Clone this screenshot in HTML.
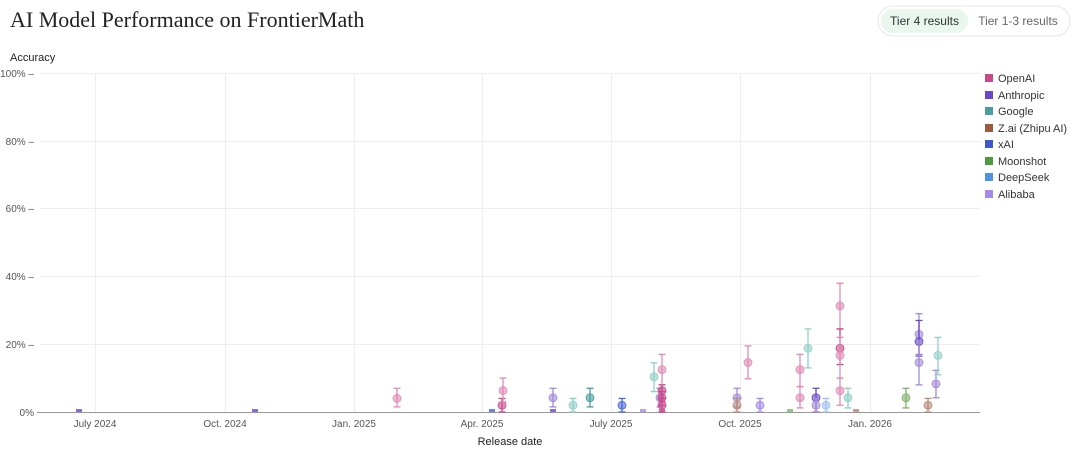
<!DOCTYPE html><html><head><style>
body{margin:0;background:#fff;font-family:"Liberation Sans",sans-serif;}
</style></head><body>
<svg width="1080" height="452" xmlns="http://www.w3.org/2000/svg" font-family="Liberation Sans, sans-serif">
<text x="10" y="27" font-family="Liberation Serif, serif" font-size="22" fill="#222">AI Model Performance on FrontierMath</text>
<rect x="878" y="6" width="192" height="30" rx="15" fill="#fff" stroke="#e6e6e6"/>
<rect x="881" y="9" width="87" height="24" rx="12" fill="#e9f7ef"/>
<text x="924.5" y="25" font-size="12" fill="#333" text-anchor="middle">Tier 4 results</text>
<text x="1018" y="25" font-size="12" fill="#666" text-anchor="middle">Tier 1-3 results</text>
<text x="10" y="61" font-size="11" fill="#222">Accuracy</text>
<g stroke="#eee" stroke-width="1">
<line x1="40" y1="73.5" x2="980" y2="73.5"/><line x1="40" y1="141.5" x2="980" y2="141.5"/><line x1="40" y1="208.5" x2="980" y2="208.5"/><line x1="40" y1="276.5" x2="980" y2="276.5"/><line x1="40" y1="344.5" x2="980" y2="344.5"/>
<line x1="95.5" y1="73" x2="95.5" y2="412"/><line x1="225.5" y1="73" x2="225.5" y2="412"/><line x1="354.5" y1="73" x2="354.5" y2="412"/><line x1="482.5" y1="73" x2="482.5" y2="412"/><line x1="611.5" y1="73" x2="611.5" y2="412"/><line x1="740.5" y1="73" x2="740.5" y2="412"/><line x1="870.5" y1="73" x2="870.5" y2="412"/>
</g>
<line x1="37" y1="412.5" x2="980" y2="412.5" stroke="#999"/>
<g font-size="10" fill="#555" text-anchor="end">
<text x="34" y="77">100% –</text><text x="34" y="145">80% –</text><text x="34" y="212">60% –</text><text x="34" y="280">40% –</text><text x="34" y="348">20% –</text><text x="34" y="416">0%</text>
</g>
<g font-size="10" fill="#555" text-anchor="middle">
<text x="95" y="427">July 2024</text><text x="225" y="427">Oct. 2024</text><text x="354" y="427">Jan. 2025</text><text x="482" y="427">Apr. 2025</text><text x="611" y="427">July 2025</text><text x="740" y="427">Oct. 2025</text><text x="870" y="427">Jan. 2026</text>
</g>
<text x="510" y="445" font-size="11" fill="#222" text-anchor="middle">Release date</text>
<g id="pts"></g>
<g font-size="11" fill="#333">
<rect x="985" y="74" width="8" height="8" fill="#c8498a"/><text x="998" y="82">OpenAI</text>
<rect x="985" y="91" width="8" height="8" fill="#6a48c6"/><text x="998" y="99">Anthropic</text>
<rect x="985" y="107" width="8" height="8" fill="#4a9ea0"/><text x="998" y="115">Google</text>
<rect x="985" y="124" width="8" height="8" fill="#9b5a3d"/><text x="998" y="132">Z.ai (Zhipu AI)</text>
<rect x="985" y="140" width="8" height="8" fill="#3f58cc"/><text x="998" y="148">xAI</text>
<rect x="985" y="157" width="8" height="8" fill="#4e9a3e"/><text x="998" y="165">Moonshot</text>
<rect x="985" y="173" width="8" height="8" fill="#4f92e0"/><text x="998" y="181">DeepSeek</text>
<rect x="985" y="190" width="8" height="8" fill="#a48ae8"/><text x="998" y="198">Alibaba</text>
</g>
</svg>
<script>
var C={o:"#c8498a",op:"#e08bb5",a:"#6a48c6",ap:"#a08ad9",g:"#8fcfc6",gd:"#4a9ea0",z:"#b88a78",x:"#4a66d6",m:"#7fb36a",d:"#9dc0f2",al:"#a48ae8"};
var P=[[79,0.4,"a",0,0],[255,0.3,"a",0,0],[397,4,"op",1.5,7],[492,0.3,"x",0,0],[502,2,"o",0,4],[503,6.3,"op",3,10],
[553,4.2,"ap",1.5,7],[553,0.5,"a",0,0],[573,2,"g",0,4],[590,4.2,"gd",1.5,7],[622,2,"x",0,4],[643,0.3,"al",0,0],
[654,10.4,"g",6,14.5],[662,12.5,"op",8,17],[660,4.2,"ap",1.5,7],[662,6.3,"o",3,8],[662,4.2,"o",2,6],[662,2,"o",0,4],[662,0.5,"o",0,0],
[737,4.2,"ap",1.5,7],[737,2,"z",0,4],[748,14.6,"op",9.8,19.5],[760,2,"al",0,4],[790,0.5,"m",0,0],
[800,12.5,"op",7.5,17],[800,4.2,"op",1.2,7.5],[808,18.8,"g",13,24.5],[816,4.2,"a",0,7],[816,2,"ap",0,4],[826,2,"d",0,4],
[840,31.3,"op",24.5,38],[840,18.8,"o",14,24.5],[840,16.7,"op",10,22],[840,6.3,"op",2,10],[848,4.2,"g",1.2,7],[856,0.3,"z",0,0],
[906,4.2,"m",1.2,7],[919,22.9,"ap",17,29],[919,20.8,"a",16.5,27],[919,14.6,"ap",8,21],[928,2,"z",0,4],[936,8.3,"ap",4.2,12.3],[938,16.7,"g",11,22]];
var s="";function y(v){return 412-v*3.39;}
P.forEach(function(p){var c=C[p[2]];var x=p[0];
if(p[4]>0){s+='<g stroke="'+c+'" stroke-width="1.3"><line x1="'+x+'" y1="'+y(p[3])+'" x2="'+x+'" y2="'+y(p[4])+'"/><line x1="'+(x-3.5)+'" y1="'+y(p[3])+'" x2="'+(x+3.5)+'" y2="'+y(p[3])+'"/><line x1="'+(x-3.5)+'" y1="'+y(p[4])+'" x2="'+(x+3.5)+'" y2="'+y(p[4])+'"/></g>';}
if(p[1]<0.6){s+='<rect x="'+(x-3)+'" y="409" width="6" height="3" fill="'+c+'" opacity="0.8"/>';}
else s+='<circle cx="'+x+'" cy="'+y(p[1])+'" r="4" fill="'+c+'" fill-opacity="0.6" stroke="'+c+'" stroke-width="0.8"/>';});
document.getElementById("pts").innerHTML=s;
</script>
</body></html>
